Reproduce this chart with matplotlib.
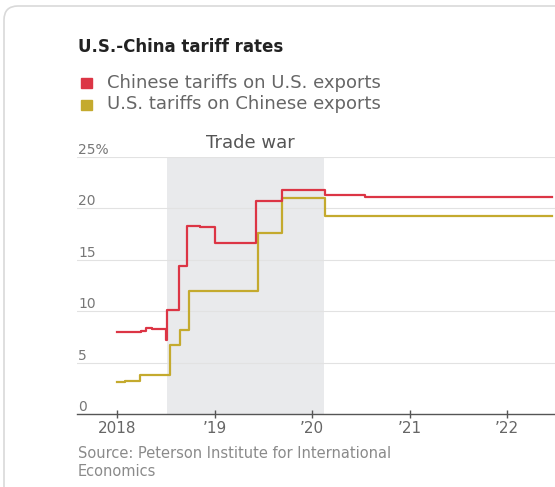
import matplotlib.pyplot as plt
from matplotlib import transforms
from matplotlib.patches import FancyBboxPatch

# tariff rates, decimal years (step changes)
china_t = [2018.0, 2018.25, 2018.30, 2018.36, 2018.50, 2018.515, 2018.64, 2018.72,
           2018.85, 2019.0, 2019.43, 2019.69, 2020.13, 2020.54, 2022.46]
china_v = [8.0, 8.1, 8.4, 8.3, 7.2, 10.1, 14.4, 18.3, 18.2, 16.6, 20.7, 21.8, 21.3, 21.1, 21.1]

us_t = [2018.0, 2018.08, 2018.24, 2018.54, 2018.65, 2018.74, 2019.45, 2019.69, 2020.13, 2022.46]
us_v = [3.1, 3.2, 3.8, 6.7, 8.2, 12.0, 17.6, 21.0, 19.3, 19.3]

trade_war = (2018.51, 2020.12)
x_ticks = [2018, 2019, 2020, 2021, 2022]
x_labels = ["2018", "\u201919", "\u201920", "\u201921", "\u201922"]
y_ticks = [0, 5, 10, 15, 20, 25]
y_labels = ["0", "5", "10", "15", "20", "25%"]

RED = "#dc3545"
YEL = "#c4aa2e"
W, H = 555, 487

fig = plt.figure(figsize=(W / 100, H / 100), dpi=100)

# card background in pixel units
bg = fig.add_axes([0, 0, 1, 1], zorder=0)
bg.set_xlim(0, W)
bg.set_ylim(H, 0)
bg.axis("off")
bg.add_patch(FancyBboxPatch((4, 6), W + 20, H + 20, boxstyle="round,pad=0,rounding_size=14",
                            fc="white", ec="#d9d9d9", lw=1.2))

bg.text(78, 47, "U.S.-China tariff rates", fontsize=12, fontweight="bold",
        color="#222222", va="center", ha="left")
bg.add_patch(plt.Rectangle((81, 78), 11, 10, color=RED))
bg.add_patch(plt.Rectangle((81, 100), 11, 10, color=YEL))
bg.text(107, 83, "Chinese tariffs on U.S. exports", fontsize=13, color="#666666", va="center")
bg.text(107, 104, "U.S. tariffs on Chinese exports", fontsize=13, color="#666666", va="center")
bg.text(78, 453, "Source: Peterson Institute for International", fontsize=10.5,
        color="#8a8a8a", va="center")
bg.text(78, 471, "Economics", fontsize=10.5, color="#8a8a8a", va="center")

ax = fig.add_axes([77 / W, (H - 414) / H, (W - 77) / W, (414 - 157) / H], zorder=1)
ax.patch.set_alpha(0)
ax.set_xlim(2017.59, 2022.49)
ax.set_ylim(0, 25)

ax.axvspan(*trade_war, color="#e9eaec", zorder=0, lw=0)
ax.text(sum(trade_war) / 2 + 0.05, 25.5, "Trade war", ha="center", va="bottom",
        fontsize=13, color="#555555")

for y in y_ticks[1:]:
    ax.axhline(y, color="#e2e2e2", lw=0.8, zorder=1)

ax.step(us_t, us_v, where="post", color=YEL, lw=1.6, zorder=3)
ax.step(china_t, china_v, where="post", color=RED, lw=1.6, zorder=4)

lab_tr = transforms.offset_copy(ax.get_yaxis_transform(), fig=fig, x=0, y=0, units="dots")
for y, lab in zip(y_ticks, y_labels):
    ax.text(0.003, y, lab, transform=lab_tr, fontsize=10, color="#777777",
            ha="left", va="bottom")

ax.set_yticks([])
ax.set_xticks(x_ticks)
ax.set_xticklabels(x_labels)
ax.tick_params(axis="x", direction="inout", length=6, width=1, color="#555555",
               labelsize=11, labelcolor="#666666", pad=2)
for side in ["top", "right", "left"]:
    ax.spines[side].set_visible(False)
ax.spines["bottom"].set_color("#555555")
ax.spines["bottom"].set_linewidth(1)

fig.savefig("out.png", dpi=100)
